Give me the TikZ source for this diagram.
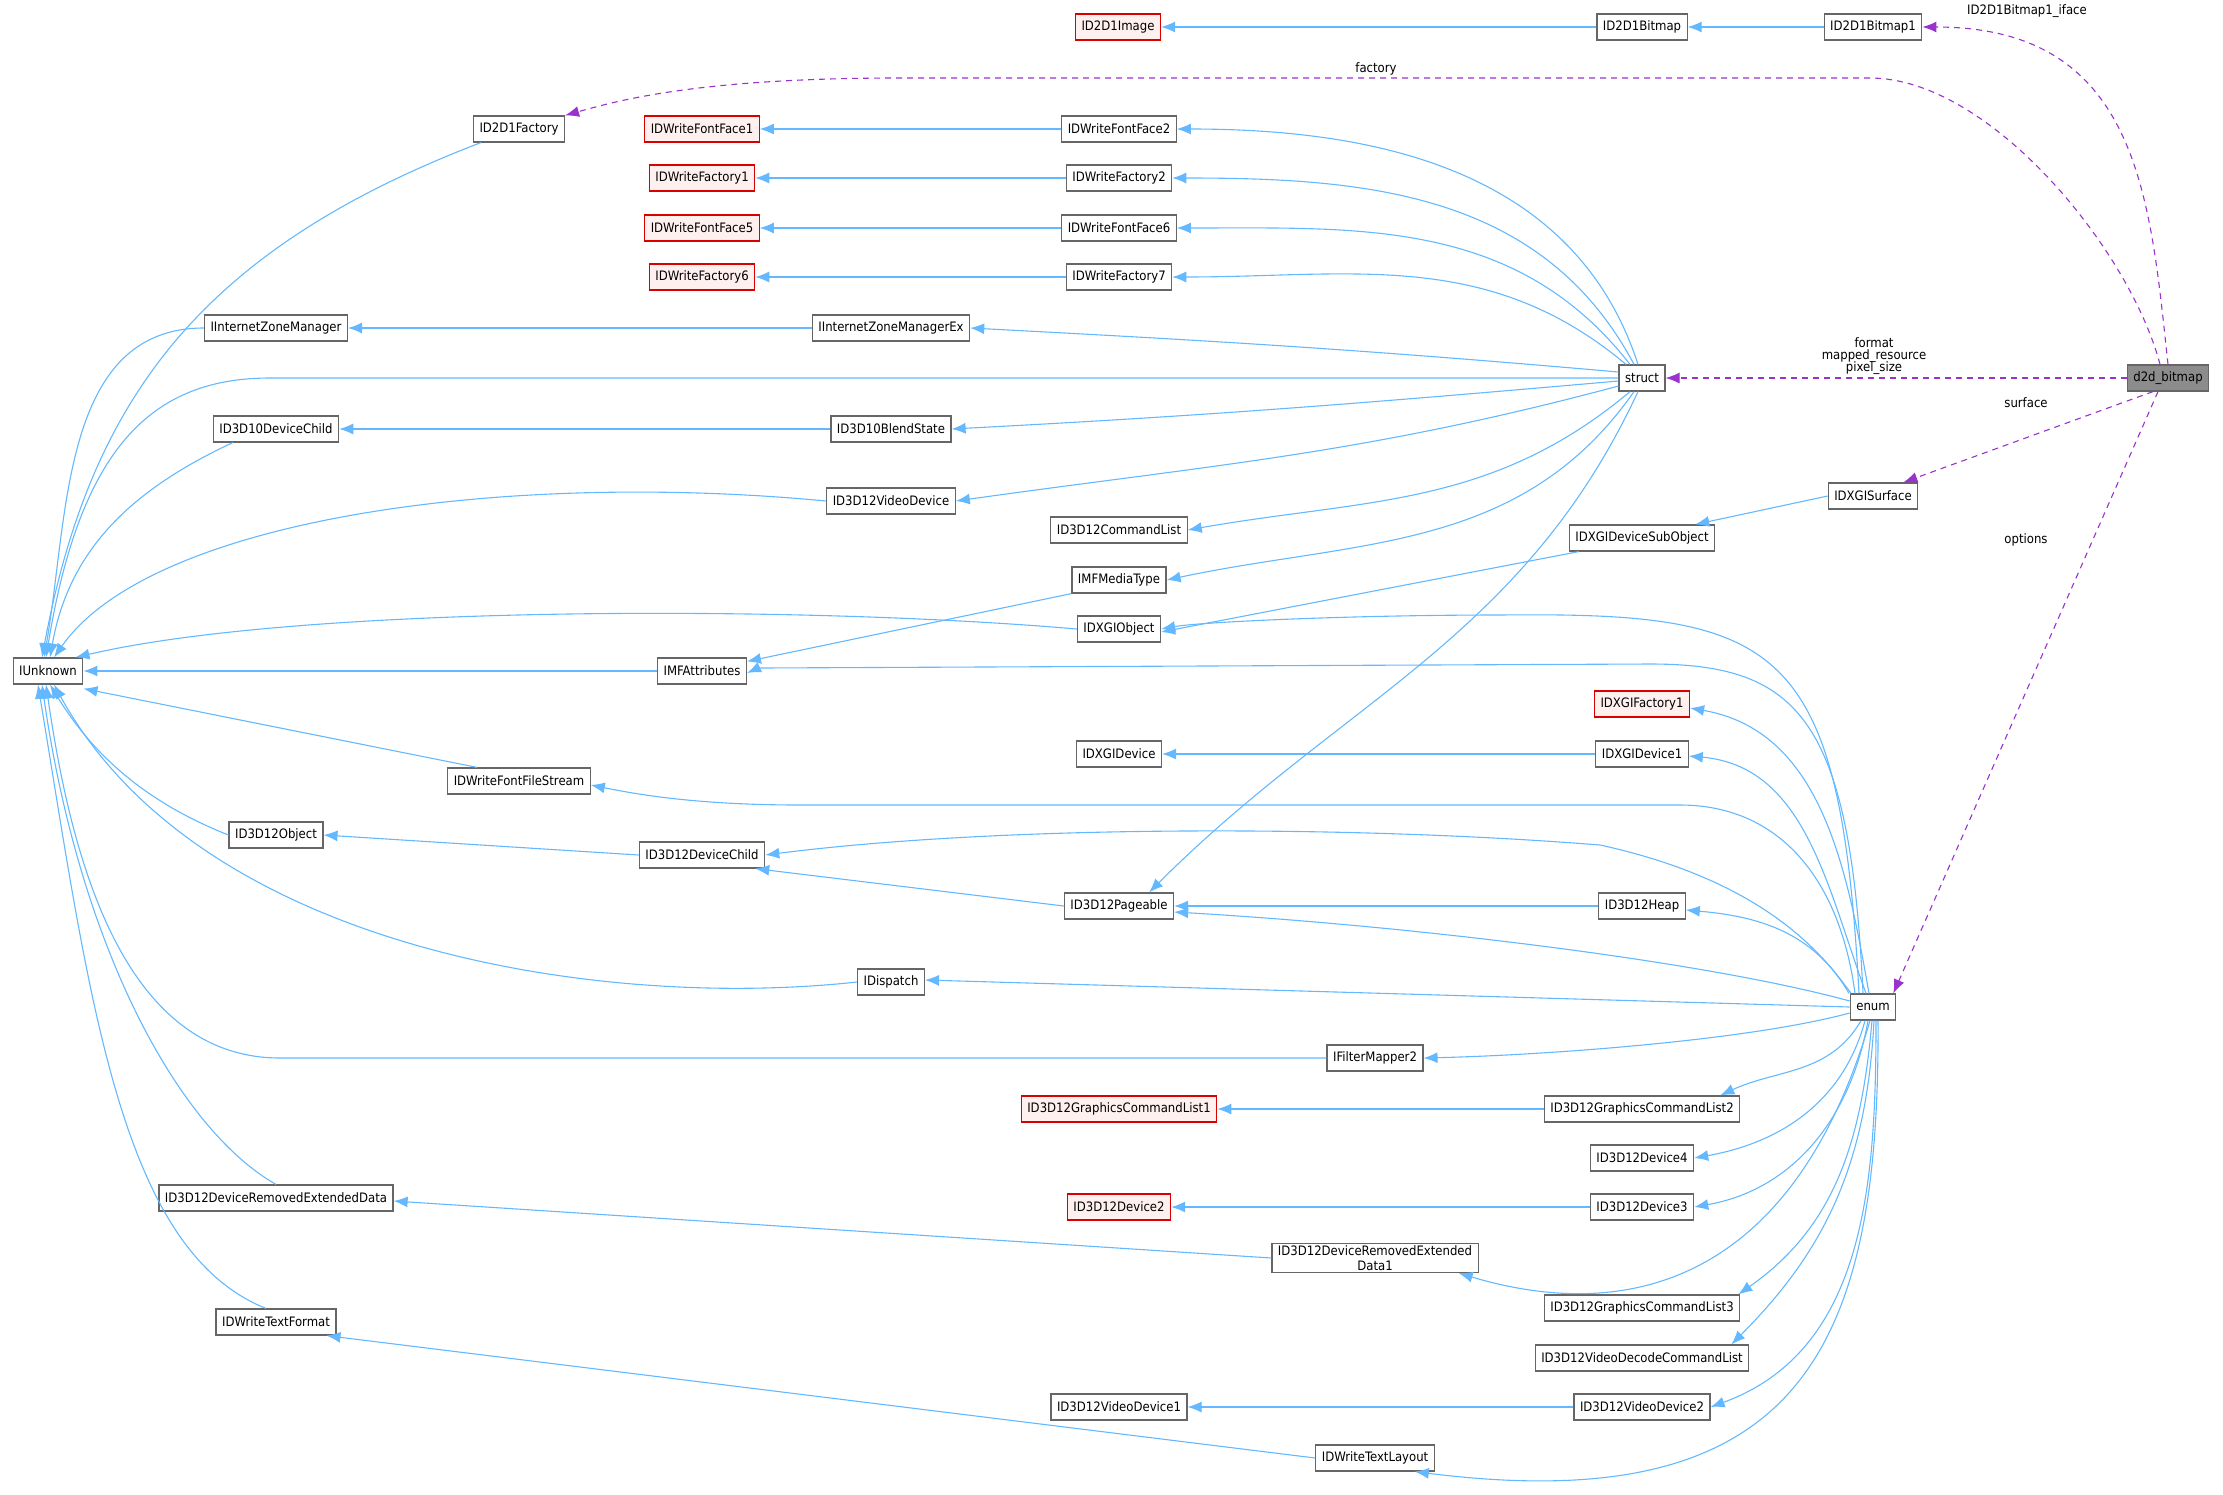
\documentclass[tikz,border=0pt]{standalone}
\usepackage{fontspec}
\setmainfont{DejaVu Sans Condensed}
\usetikzlibrary{arrows.meta}
\definecolor{eblue}{RGB}{99,184,255}
\definecolor{epurple}{RGB}{154,50,205}
\begin{document}
\begin{tikzpicture}[x=1pt,y=1pt,
  box/.style={draw=black!60,fill=white,line width=1.2pt,minimum height=26pt,inner xsep=6pt,inner ysep=2pt,font=\fontsize{13}{15}\selectfont},
  red/.style={box,draw=red!85!black,fill=red!6},
  cur/.style={box,fill=black!45},
  inh/.style={draw=eblue,line width=1.1pt,-{Latex[length=14pt,width=11pt]}},
  use/.style={draw=epurple,line width=1.1pt,dash pattern=on 6pt off 5pt,-{Latex[length=14pt,width=11pt]}},
  lab/.style={font=\fontsize{13}{15}\selectfont,inner sep=0pt,align=center}]
\useasboundingbox (0,0) rectangle (2223,-1494);
% nodes
\node[red] (img) at (1118,-27) {ID2D1Image};
\node[box] (bmp) at (1642,-27) {ID2D1Bitmap};
\node[box] (bmp1) at (1873,-27) {ID2D1Bitmap1};
\node[box] (fac) at (519,-129) {ID2D1Factory};
\node[red] (ff1) at (702,-129) {IDWriteFontFace1};
\node[red] (wf1) at (702,-178) {IDWriteFactory1};
\node[red] (ff5) at (702,-228) {IDWriteFontFace5};
\node[red] (wf6) at (702,-277) {IDWriteFactory6};
\node[box] (ff2) at (1119,-129) {IDWriteFontFace2};
\node[box] (wf2) at (1119,-178) {IDWriteFactory2};
\node[box] (ff6) at (1119,-228) {IDWriteFontFace6};
\node[box] (wf7) at (1119,-277) {IDWriteFactory7};
\node[box] (izm) at (276,-328) {IInternetZoneManager};
\node[box] (izmx) at (891,-328) {IInternetZoneManagerEx};
\node[box] (st) at (1642,-378) {struct};
\node[cur] (d2d) at (2168,-378) {d2d\_bitmap};
\node[box] (d10c) at (276,-429) {ID3D10DeviceChild};
\node[box] (d10b) at (891,-429) {ID3D10BlendState};
\node[box] (vd) at (891,-501) {ID3D12VideoDevice};
\node[box] (surf) at (1873,-496) {IDXGISurface};
\node[box] (cl) at (1119,-530) {ID3D12CommandList};
\node[box] (dso) at (1642,-538) {IDXGIDeviceSubObject};
\node[box] (mt) at (1119,-580) {IMFMediaType};
\node[box] (xo) at (1119,-629) {IDXGIObject};
\node[box] (unk) at (48,-671) {IUnknown};
\node[box] (mfa) at (702,-671) {IMFAttributes};
\node[red] (xf1) at (1642,-704) {IDXGIFactory1};
\node[box] (xd) at (1119,-754) {IDXGIDevice};
\node[box] (xd1) at (1642,-754) {IDXGIDevice1};
\node[box] (ffs) at (519,-781) {IDWriteFontFileStream};
\node[box] (obj) at (276,-835) {ID3D12Object};
\node[box] (dc) at (702,-855) {ID3D12DeviceChild};
\node[box] (pg) at (1119,-906) {ID3D12Pageable};
\node[box] (heap) at (1642,-906) {ID3D12Heap};
\node[box] (disp) at (891,-982) {IDispatch};
\node[box] (en) at (1873,-1007) {enum};
\node[box] (ifm) at (1375,-1058) {IFilterMapper2};
\node[red] (gcl1) at (1119,-1109) {ID3D12GraphicsCommandList1};
\node[box] (gcl2) at (1642,-1109) {ID3D12GraphicsCommandList2};
\node[box] (dv4) at (1642,-1158) {ID3D12Device4};
\node[box] (dred) at (276,-1198) {ID3D12DeviceRemovedExtendedData};
\node[red] (dv2) at (1119,-1207) {ID3D12Device2};
\node[box] (dv3) at (1642,-1207) {ID3D12Device3};
\node[box,align=center,font=\fontsize{13}{15}\selectfont] (dred1) at (1375,-1258) {ID3D12DeviceRemovedExtended\\Data1};
\node[box] (gcl3) at (1642,-1308) {ID3D12GraphicsCommandList3};
\node[box] (tf) at (276,-1322) {IDWriteTextFormat};
\node[box] (vdcl) at (1642,-1358) {ID3D12VideoDecodeCommandList};
\node[box] (vd1) at (1119,-1407) {ID3D12VideoDevice1};
\node[box] (vd2) at (1642,-1407) {ID3D12VideoDevice2};
\node[box] (tl) at (1375,-1458) {IDWriteTextLayout};
% purple usage edges
\draw[use] (d2d.north) .. controls (2150,-200) and (2140,-27) .. (bmp1.east);
\node[lab] (l1) at (2027,-11) {ID2D1Bitmap1\_iface};
\draw[use] ([xshift=-8pt]d2d.north) .. controls (2130,-250) and (1990,-78) .. (1870,-78) -- (900,-78) .. controls (700,-78) and (620,-100) .. (fac.north east);
\node[lab] (l2) at (1376,-69) {factory};
\draw[use] (d2d.west) -- (st.east);
\node[lab] (l3) at (1874,-356) {format\\[-3pt]mapped\_resource\\[-3pt]pixel\_size};
\draw[use] ([xshift=-15pt]d2d.south) -- ([xshift=-15pt]surf.north east);
\node[lab] (l4) at (2026,-403) {surface};
\draw[use] ([xshift=-10pt]d2d.south) -- ([xshift=-3pt]en.north east);
\node[lab] (l5) at (2026,-540) {options};
% blue inheritance
\draw[inh] (bmp) -- (img);
\draw[inh] (bmp1) -- (bmp);
\draw[inh] (ff2) -- (ff1);
\draw[inh] (wf2) -- (wf1);
\draw[inh] (ff6) -- (ff5);
\draw[inh] (wf7) -- (wf6);
\draw[inh] ([xshift=-4pt]st.north) to[out=108,in=0] (ff2.east);
\draw[inh] ([xshift=-8pt]st.north) to[out=118,in=0] (wf2.east);
\draw[inh] ([xshift=-12pt]st.north) to[out=128,in=0] (ff6.east);
\draw[inh] ([xshift=-16pt]st.north) to[out=140,in=0] (wf7.east);
\draw[inh] ([yshift=6pt]st.west) to[out=175,in=-3] (izmx.east);
\draw[inh] (st.west) -- (270,-378) .. controls (150,-378) and (80,-450) .. ([xshift=-2pt]unk.north);
\draw[inh] ([yshift=-3pt]st.west) to[out=-175,in=3] (d10b.east);
\draw[inh] ([yshift=-8pt]st.west) to[out=-165,in=8] (vd.east);
\draw[inh] ([xshift=-12pt]st.south) to[out=-140,in=10] (cl.east);
\draw[inh] ([xshift=-8pt]st.south) to[out=-125,in=12] (mt.east);
\draw[inh] ([xshift=-4pt]st.south) to[out=-115,in=45] ([xshift=-25pt]pg.north east);
\draw[inh] (izmx) -- (izm);
\draw[inh] (izm.west) to[out=180,in=80] ([xshift=-4pt]unk.north);
\draw[inh] ([xshift=8pt]fac.south west) .. controls (200,-250) and (90,-400) .. ([xshift=-6pt]unk.north);
\draw[inh] (d10b) -- (d10c);
\draw[inh] ([xshift=20pt]d10c.south west) to[out=-155,in=80] ([xshift=2pt]unk.north);
\draw[inh] (vd.west) .. controls (500,-470) and (150,-520) .. ([xshift=6pt]unk.north);
\draw[inh] (xo.west) .. controls (800,-605) and (300,-605) .. ([xshift=-8pt]unk.north east);
\draw[inh] (mfa) -- (unk);
\draw[inh] ([xshift=30pt]ffs.north west) -- ([yshift=-4pt]unk.south east);
\draw[inh] (mt.south west) -- ([yshift=-4pt]mfa.north east);
\draw[inh] (surf.west) -- ([xshift=-20pt]dso.north east);
\draw[inh] ([xshift=10pt]dso.south west) -- ([yshift=-3pt]xo.east);
\draw[inh] (xd1) -- (xd);
\draw[inh] (dc.west) -- (obj.east);
\draw[inh] (obj.west) .. controls (140,-800) and (90,-750) .. ([xshift=2pt]unk.south);
\draw[inh] (pg.west) -- ([xshift=-10pt]dc.south east);
\draw[inh] (heap) -- (pg);
\draw[inh] (disp.west) .. controls (600,-1010) and (200,-950) .. ([xshift=6pt]unk.south);
\draw[inh] (ifm.west) -- (280,-1058) .. controls (120,-1058) and (70,-850) .. ([xshift=-2pt]unk.south);
\draw[inh] (gcl2) -- (gcl1);
\draw[inh] (dv3) -- (dv2);
\draw[inh] (vd2) -- (vd1);
\draw[inh] (dred1.west) -- ([yshift=-3pt]dred.east);
\draw[inh] (tl.west) -- ([xshift=-10pt]tf.south east);
\draw[inh] (dred.north) .. controls (180,-1130) and (80,-950) .. ([xshift=-6pt]unk.south);
\draw[inh] ([xshift=-10pt]tf.north) .. controls (120,-1250) and (90,-1000) .. ([xshift=-10pt]unk.south);
% enum edges
\draw[inh] ([xshift=-14pt]en.north) .. controls (1840,-640) and (1780,-612) .. (1500,-615) .. controls (1350,-615) and (1200,-622) .. (xo.east);
\draw[inh] ([xshift=-10pt]en.north) .. controls (1850,-720) and (1800,-664) .. (1650,-664) -- (760,-668) .. controls (758,-668) .. ([yshift=-2pt]mfa.east);
\draw[inh] ([xshift=-4pt]en.north) to[out=100,in=-10] ([yshift=-4pt]xf1.east);
\draw[inh] ([xshift=-7pt]en.north) to[out=110,in=-5] ([yshift=-2pt]xd1.east);
\draw[inh] ([xshift=-18pt]en.north) .. controls (1840,-880) and (1780,-805) .. (1680,-805) -- (800,-805) .. controls (700,-805) and (640,-795) .. ([yshift=-4pt]ffs.east);
\draw[inh] ([xshift=-22pt]en.north) .. controls (1820,-950) and (1760,-880) .. (1600,-845) .. controls (1350,-825) and (1000,-825) .. (dc.east);
\draw[inh] ([xshift=-24pt]en.north) to[out=120,in=-5] ([yshift=-4pt]heap.east);
\draw[inh] ([yshift=6pt]en.west) .. controls (1700,-960) and (1400,-925) .. ([yshift=-6pt]pg.east);
\draw[inh] (en.west) -- ([yshift=2pt]disp.east);
\draw[inh] ([yshift=-6pt]en.west) .. controls (1750,-1040) and (1550,-1055) .. (ifm.east);
\draw[inh] ([xshift=-12pt]en.south) to[out=-120,in=25] ([xshift=-20pt]gcl2.north east);
\draw[inh] ([xshift=-8pt]en.south) to[out=-105,in=10] (dv4.east);
\draw[inh] ([xshift=-5pt]en.south) to[out=-100,in=10] (dv3.east);
\draw[inh] ([xshift=-3pt]en.south) .. controls (1800,-1260) and (1650,-1330) .. ([xshift=-20pt]dred1.south east);
\draw[inh] ([xshift=-1pt]en.south) to[out=-95,in=35] ([xshift=-2pt]gcl3.north east);
\draw[inh] ([xshift=1pt]en.south) to[out=-93,in=45] ([xshift=-18pt]vdcl.north east);
\draw[inh] ([xshift=3pt]en.south) to[out=-90,in=20] (vd2.east);
\draw[inh] ([xshift=5pt]en.south) .. controls (1880,-1350) and (1800,-1520) .. ([xshift=-20pt]tl.south east);
\end{tikzpicture}
\end{document}
